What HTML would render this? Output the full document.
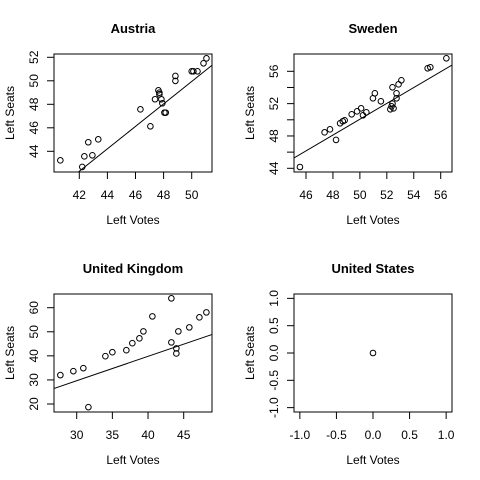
<!DOCTYPE html>
<html><head><meta charset="utf-8"><style>
html,body{margin:0;background:#fff;overflow:hidden;width:480px;height:480px}
svg{display:block}
svg text{font-family:"Liberation Sans",Arial,sans-serif;fill:#000}
</style></head><body>
<svg id="c" width="480" height="480" xmlns="http://www.w3.org/2000/svg"></svg>
<script>
const austriaVotes=[40.65,42.21,42.36,42.64,42.93,43.35,46.35,47.06,47.39,47.63,47.7,47.7,47.84,47.91,48.06,48.15,48.84,48.84,50.0,50.12,50.41,50.84,51.05];
const austriaSeats=[43.23,42.67,43.57,44.77,43.66,45.02,47.57,46.13,48.43,49.19,48.99,48.85,48.43,48.09,47.29,47.29,50.41,49.99,50.81,50.81,50.81,51.49,51.91];
const swedenVotes=[45.55,47.38,47.78,48.23,48.53,48.73,48.87,49.39,49.79,50.09,50.23,50.48,50.97,51.11,51.56,52.26,52.35,52.42,52.42,52.5,52.72,52.72,52.87,53.08,55.03,55.23,56.42];
const swedenSeats=[44.16,48.45,48.82,47.51,49.57,49.82,49.94,50.68,51.05,51.42,50.56,50.93,52.66,53.28,52.29,51.3,51.67,52.0,54.02,51.42,52.66,53.28,54.39,54.89,56.37,56.5,57.61];
const ukVotes=[27.71,29.53,30.93,31.64,34.02,35.0,36.96,37.8,38.79,39.35,40.61,43.27,43.27,43.97,43.97,44.25,45.79,47.2,48.18];
const ukSeats=[32.0,33.63,34.88,18.69,39.86,41.52,42.35,45.26,47.27,50.17,56.4,63.88,45.6,43.1,41.0,50.17,51.83,56.0,58.06];
const usVotes=[0];
const usSeats=[0];
const austriaXTicks=[42,44,46,48,50], austriaYTicks=[44,46,48,50,52];
const swedenXTicks=[46,48,50,52,54,56], swedenYTicks=[44,46,48,50,52,54,56], swedenYLabels=["44","","48","","52","","56"];
const ukXTicks=[30,35,40,45], ukYTicks=[20,30,40,50,60];
const usXTicks=[-1,-0.5,0,0.5,1], usYTicks=[-1,-0.5,0,0.5,1];
const usTickLabels=["-1.0","-0.5","0.0","0.5","1.0"];
const austriaFit=[2.19,0.955], swedenFit=[1.07,0.98], ukFit=[-0.71,1.0127];

const NS="http://www.w3.org/2000/svg", svg=document.getElementById('c');
function mk(t,a,p){const e=document.createElementNS(NS,t);for(const k in a)e.setAttribute(k,a[k]);(p||svg).appendChild(e);return e;}
function lin(v0,p0,v1,p1){return v=>p0+(v-v0)*(p1-p0)/(v1-v0);}
const panels=[
 {name:'austria',title:'Austria',ox:0,oy:0,xs:lin(42,79.3,50,191.7),ys:lin(52,57.3,44,151.3),xv:austriaVotes,yv:austriaSeats,xt:austriaXTicks,yt:austriaYTicks,fit:austriaFit},
 {name:'sweden',title:'Sweden',ox:240,oy:0,xs:lin(46,66,56,200.7),ys:lin(56,71.3,44,168.3),xv:swedenVotes,yv:swedenSeats,xt:swedenXTicks,yt:swedenYTicks,yl:swedenYLabels,fit:swedenFit},
 {name:'united-kingdom',title:'United Kingdom',ox:0,oy:240,xs:lin(30,76.7,45,183.7),ys:lin(60,67.7,20,164),xv:ukVotes,yv:ukSeats,xt:ukXTicks,yt:ukYTicks,fit:ukFit},
 {name:'united-states',title:'United States',ox:240,oy:240,xs:lin(-1.08,54,1.08,212),ys:lin(1.08,54,-1.08,172),xv:usVotes,yv:usSeats,xt:usXTicks,yt:usYTicks,xl:usTickLabels,yl:usTickLabels,fit:null}
];
panels.forEach(P=>{
 const g=mk('g',{transform:`translate(${P.ox},${P.oy})`});
 
 
 const L=54,R=212,T=54,B=172;
 const t=mk('text',{x:133,y:33,'text-anchor':'middle','font-size':13,'font-weight':'bold'},g);t.textContent=P.title;
 
 const cp=mk('clipPath',{id:'cl'+P.name},g);mk('rect',{x:L,y:T,width:R-L,height:B-T},cp);
 const box=mk('rect',{x:L,y:T,width:R-L,height:B-T,fill:'none',stroke:'#000'},g);
 
 const xa=mk('g',{},g);
 mk('line',{x1:P.xs(P.xt[0]),x2:P.xs(P.xt[P.xt.length-1]),y1:B,y2:B,stroke:'#000'},xa);
 P.xt.forEach((v,i)=>{const x=P.xs(v);mk('line',{x1:x,x2:x,y1:B,y2:B+7,stroke:'#000'},xa);
  const tx=mk('text',{x:x,y:199,'text-anchor':'middle','font-size':12},xa);tx.textContent=P.xl?P.xl[i]:String(v);});
 const ya=mk('g',{},g);
 mk('line',{x1:L,x2:L,y1:P.ys(P.yt[0]),y2:P.ys(P.yt[P.yt.length-1]),stroke:'#000'},ya);
 P.yt.forEach((v,i)=>{const y=P.ys(v);mk('line',{x1:L-7,x2:L,y1:y,y2:y,stroke:'#000'},ya);
  const tx=mk('text',{x:0,y:0,'text-anchor':'middle','font-size':12,transform:`translate(38,${y}) rotate(-90)`},ya);tx.textContent=P.yl?P.yl[i]:String(v);});
 const xl=mk('text',{x:133,y:224,'text-anchor':'middle','font-size':12},g);xl.textContent='Left Votes';
 
 const yl=mk('text',{x:0,y:0,'text-anchor':'middle','font-size':12,transform:'translate(14,113) rotate(-90)'},g);yl.textContent='Left Seats';
 
 if(P.fit){const a=P.fit[0],b=P.fit[1],x0=-1000,x1=1000;
  const ln=mk('line',{x1:P.xs(x0),y1:P.ys(a+b*x0),x2:P.xs(x1),y2:P.ys(a+b*x1),stroke:'#000','clip-path':`url(#cl${P.name})`},g);
  }
 P.xv.forEach((v,i)=>{const c=mk('circle',{cx:P.xs(v),cy:P.ys(P.yv[i]),r:2.8,fill:'none',stroke:'#000'},g);
  });
});
</script>
</body></html>
